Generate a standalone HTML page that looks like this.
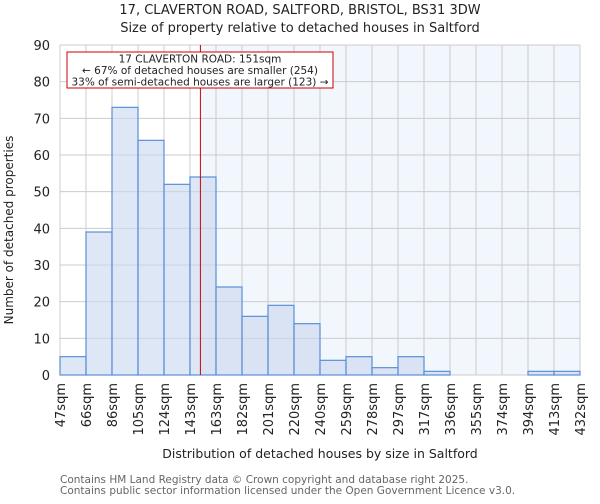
<!DOCTYPE html>
<html><head><meta charset="utf-8"><style>
body{margin:0;background:#fff;font-family:"DejaVu Sans","Liberation Sans",sans-serif;}
</style></head><body>
<svg width="600" height="500" xmlns="http://www.w3.org/2000/svg" font-family="DejaVu Sans, Liberation Sans, sans-serif">
<text x="300" y="14" text-anchor="middle" font-size="13" fill="#222">17, CLAVERTON ROAD, SALTFORD, BRISTOL, BS31 3DW</text>
<text x="300" y="32" text-anchor="middle" font-size="13" fill="#222">Size of property relative to detached houses in Saltford</text>
<g id="plot"></g>
<text transform="translate(13,230) rotate(-90)" text-anchor="middle" font-size="12" fill="#222">Number of detached properties</text>
<text x="320" y="458" text-anchor="middle" font-size="12.5" fill="#222">Distribution of detached houses by size in Saltford</text>
<text x="60" y="483" font-size="10.5" fill="#666">Contains HM Land Registry data © Crown copyright and database right 2025.</text>
<text x="60" y="494" font-size="10.5" fill="#666">Contains public sector information licensed under the Open Government Licence v3.0.</text>
</svg>
<script>
const categories=["47sqm","66sqm","86sqm","105sqm","124sqm","143sqm","163sqm","182sqm","201sqm","220sqm","240sqm","259sqm","278sqm","297sqm","317sqm","336sqm","355sqm","374sqm","394sqm","413sqm","432sqm"];
const edgeValues=[47,66,86,105,124,143,163,182,201,220,240,259,278,297,317,336,355,374,394,413,432];
const counts=[5,39,73,64,52,54,24,16,19,14,4,5,2,5,1,0,0,0,1,1];
const yTicks=[0,10,20,30,40,50,60,70,80,90];
const propertySize=151;
const X0=60,X1=580,Y0=375,Y1=45,YMAX=90;
const n=counts.length,bw=(X1-X0)/n;
const xIdx=i=>X0+i*bw;
const y=v=>Y0-(v/YMAX)*(Y0-Y1);
function xVal(v){for(let i=0;i<edgeValues.length-1;i++){if(v>=edgeValues[i]&&v<=edgeValues[i+1])return xIdx(i+(v-edgeValues[i])/(edgeValues[i+1]-edgeValues[i]));}return X0;}
const NS="http://www.w3.org/2000/svg",g=document.getElementById('plot');
function mk(t,a,txt){const e=document.createElementNS(NS,t);for(const k in a)e.setAttribute(k,a[k]);if(txt!==undefined)e.textContent=txt;g.appendChild(e);return e;}
const rx=xVal(propertySize);
let e=mk('rect',{x:rx,y:Y1,width:X1-rx,height:Y0-Y1,fill:'#f2f6fd'});


for(let i=0;i<=n;i++){e=mk('line',{x1:xIdx(i),x2:xIdx(i),y1:Y1,y2:Y0,stroke:'#ccc','stroke-width':1});

}
yTicks.forEach(t=>{e=mk('line',{x1:X0,x2:X1,y1:y(t),y2:y(t),stroke:'#ccc','stroke-width':1});


e=mk('text',{x:X0-10,y:y(t)+5,'text-anchor':'end','font-size':13,fill:'#222'},t);

});
counts.forEach((c,i)=>{e=mk('rect',{x:xIdx(i),y:y(c),width:bw,height:Y0-y(c),fill:'rgba(200,215,238,0.6)',stroke:'#5b8fd6','stroke-width':1.2});

});
categories.forEach((c,i)=>{e=mk('text',{transform:`translate(${xIdx(i)+5},383) rotate(-90)`,'text-anchor':'end','font-size':13,fill:'#222'},c);

});
e=mk('line',{x1:rx,x2:rx,y1:Y1,y2:Y0,stroke:'#cc0000','stroke-width':1});


e=mk('rect',{x:67,y:52,width:266,height:36,fill:'#fff',stroke:'#cc0000','stroke-width':1});


["17 CLAVERTON ROAD: 151sqm","← 67% of detached houses are smaller (254)","33% of semi-detached houses are larger (123) →"].forEach((t,i)=>{
e=mk('text',{x:200,y:62.5+i*11.5,'text-anchor':'middle','font-size':10.5,fill:'#222'},t);

});
</script>
</body></html>
